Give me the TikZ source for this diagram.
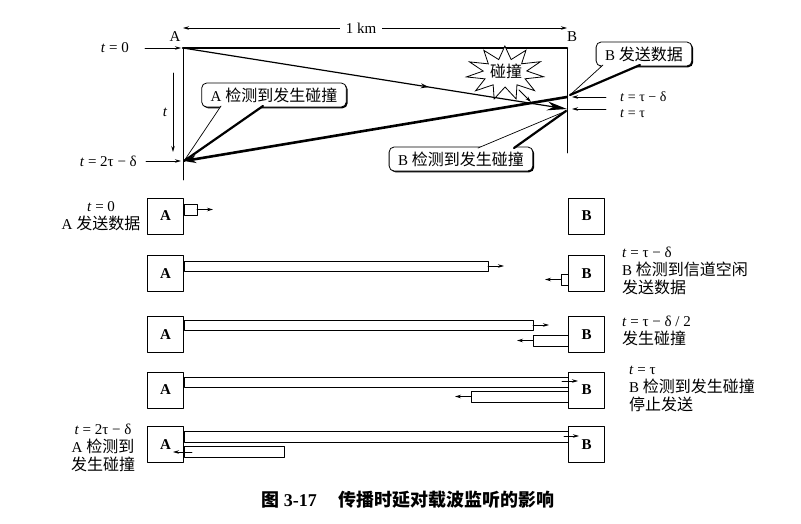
\documentclass[tikz,border=0pt]{standalone}
\usepackage{fontspec}
\setmainfont{Liberation Serif}
\newfontfamily\cjk{Noto Sans CJK SC}
\newcommand{\zh}[1]{{\cjk\fontsize{16}{18}\selectfont #1}}
\newcommand{\tvar}{\textit{t}}
\usetikzlibrary{arrows.meta,decorations.markings,shadows}
\tikzset{
  station/.style={draw, line width=0.9pt, minimum width=36pt, minimum height=36pt, inner sep=0pt, font=\fontsize{15}{18}\selectfont\bfseries},
  sig/.style={draw, line width=0.8pt, fill=white},
  sendarrow/.style={-{Stealth[length=6pt,width=3.5pt]}, line width=0.8pt},
  bubble/.style={draw, line width=0.8pt, rounded corners=5pt, fill=white, inner xsep=9pt, inner ysep=2pt,
    minimum height=24pt, font=\fontsize{15}{18}\selectfont,
    drop shadow={shadow xshift=1.3pt, shadow yshift=-1.3pt, opacity=1, fill=black}},
  rowlabel/.style={align=left, inner sep=0pt, font=\fontsize{15}{18}\selectfont},
  timemark/.style={inner sep=0pt, font=\fontsize{15}{18}\selectfont},
}
\begin{document}
\begin{tikzpicture}[x=1pt, y=-1pt, line cap=round, line join=round]
\useasboundingbox (0,0) rectangle (801,523);
% ---------------- time-space diagram ----------------
\coordinate (A0) at (183,48);
\coordinate (B0) at (567,48);
\coordinate (Ad) at (184,161);   % A detects collision
\coordinate (Bs) at (567,97);    % B starts sending
\coordinate (Bd) at (567,109);   % B detects collision
\node[timemark] (lA) at (175,37) {A};
\node[timemark] (lB) at (572,37) {B};
% distance
\node[timemark, inner xsep=6pt] (km) at (361,28) {1 km};
\draw[sendarrow] (km) -- (183,28);
\draw[sendarrow] (km) -- (567,28);
% frame
\draw[line width=2.6pt] (A0) -- (B0);
\draw[line width=0.9pt] (A0) -- (183,180);
\draw[line width=0.9pt] (B0) -- (567,153);
% collision star
\filldraw[fill=white, line width=0.8pt, line join=miter]
  plot[samples at={0,...,21}] ({505+ifthenelse(mod(\x,2)==0,39,22)*cos(\x*360/22+8)},
                               {73+ifthenelse(mod(\x,2)==0,27,14)*sin(\x*360/22+8)}) -- cycle;
\node (crash) at (506,71) {\zh{碰撞}};
\draw[sendarrow] (519,90) -- (531,102);
% signal from A and signal from B
\draw[line width=1.2pt, -{Stealth[length=20pt,width=9pt]},
  postaction={decorate}, decoration={markings, mark=at position 0.64 with {\arrow{Stealth[length=8pt,width=5pt]}}}]
  (A0) -- (Bd);
\draw[line width=2.6pt, -{Stealth[length=12pt,width=8pt]}] (Bs) -- (Ad);
% time marks
\node[timemark, anchor=east] (t0) at (129,48) {\tvar{} = 0};
\draw[sendarrow] ([xshift=16pt]t0.east) -- ([xshift=-2pt]A0);
\node[timemark, anchor=east] (t2) at (137,161) {\tvar{} = 2τ − δ};
\draw[sendarrow] ([xshift=9pt]t2.east) -- ([xshift=-3pt]Ad);
\draw[sendarrow] (173,73) -- (173,152);
\node[timemark] (tv) at (165,112) {\tvar};
\node[timemark, anchor=west, font=\fontsize{14}{16}\selectfont] (t3) at (620,96.5) {\tvar{} = τ − δ};
\coordinate (t3r) at (606,97);
\draw[sendarrow] (t3r) -- ([xshift=5pt]Bs);
\node[timemark, anchor=west, font=\fontsize{14}{16}\selectfont] (t4) at (620,113.5) {\tvar{} = τ};
\coordinate (t4r) at (606,109);
\draw[sendarrow] (t4r) -- ([xshift=5pt]Bd);
% callouts
\node[bubble] (cA) at (274,95) {A \zh{检测到发生碰撞}};
\coordinate (cAl) at (221,106);
\coordinate (cAr) at (263,106);
\fill[white] (cAl) -- (cAr) -- (Ad) -- cycle;
\draw[line width=0.7pt] (cAl) -- (Ad);
\draw[line width=2.2pt] (cAr) -- (Ad);
\node[bubble] (cBs) at (644,54) {B \zh{发送数据}};
\coordinate (cBsl) at (603,65);
\coordinate (cBsr) at (640,65);
\coordinate (cBst) at (570,95);
\fill[white] (cBsl) -- (cBsr) -- (cBst) -- cycle;
\draw[line width=0.7pt] (cBsl) -- (cBst);
\draw[line width=2.2pt] (cBsr) -- (cBst);
\node[bubble] (cBd) at (461,159) {B \zh{检测到发生碰撞}};
\coordinate (cBdl) at (478,148);
\coordinate (cBdr) at (514,148);
\coordinate (cBdt) at (566,111);
\fill[white] (cBdl) -- (cBdr) -- (cBdt) -- cycle;
\draw[line width=0.7pt] (cBdl) -- (cBdt);
\draw[line width=2.2pt] (cBdr) -- (cBdt);
% ---------------- five snapshots ----------------
% row 1: t = 0
\node[station] (a1) at (165.5,216) {A};
\node[station] (b1) at (586.5,216) {B};
\draw[sig] (a1.east |- 0,204) rectangle (197,215);
\draw[sendarrow] (197,209.5) -- (213,209.5);
\node[rowlabel, align=center] (n1) at (101,216) {\tvar{} = 0\\A \zh{发送数据}};
% row 2: t = tau - delta
\node[station] (a2) at (165.5,273.5) {A};
\node[station] (b2) at (586.5,273.5) {B};
\draw[sig] (a2.east |- 0,261) rectangle (488,271);
\draw[sendarrow] (488,266) -- (504,266);
\draw[sig] (561,274) rectangle (b2.west |- 0,285);
\draw[sendarrow] (561,279.5) -- (545,279.5);
\node[rowlabel, anchor=west] (n2) at (622,271) {\tvar{} = τ − δ\\B \zh{检测到信道空闲}\\\zh{发送数据}};
% row 3: t = tau - delta/2
\node[station] (a3) at (165.5,334.5) {A};
\node[station] (b3) at (586.5,334.5) {B};
\draw[sig] (a3.east |- 0,320) rectangle (533,330);
\draw[sendarrow] (533,325) -- (549,325);
\draw[sig] (533,335) rectangle (b3.west |- 0,346);
\draw[sendarrow] (533,340.5) -- (517,340.5);
\node[rowlabel, anchor=west] (n3) at (622,331) {\tvar{} = τ − δ / 2\\\zh{发生碰撞}};
% row 4: t = tau
\node[station] (a4) at (165.5,390) {A};
\node[station] (b4) at (586.5,390) {B};
\draw[sig] (a4.east |- 0,377) rectangle (b4.west |- 0,387);
\draw[sendarrow] (562,381) -- (578,381);
\draw[sig] (471,391) rectangle (b4.west |- 0,402);
\draw[sendarrow] (471,396.5) -- (455,396.5);
\node[rowlabel, anchor=west] (n4) at (629,389) {\tvar{} = τ\\B \zh{检测到发生碰撞}\\\zh{停止发送}};
% row 5: t = 2tau - delta
\node[station] (a5) at (165.5,444.5) {A};
\node[station] (b5) at (586.5,444.5) {B};
\draw[sig] (a5.east |- 0,431) rectangle (b5.west |- 0,442);
\draw[sendarrow] (564,436) -- (579,436);
\draw[sig] (a5.east |- 0,446) rectangle (284,457);
\draw[sendarrow] (192,452) -- (173,452);
\node[rowlabel, align=center] (n5) at (103,448) {\tvar{} = 2τ − δ\\A \zh{检测到}\\\zh{发生碰撞}};
% caption
\node (cap) at (408,500) {\fontsize{18}{20}\selectfont\cjk\bfseries 图 {\rmfamily 3-17}\hspace{1.2em}传播时延对载波监听的影响};
\end{tikzpicture}
\end{document}
